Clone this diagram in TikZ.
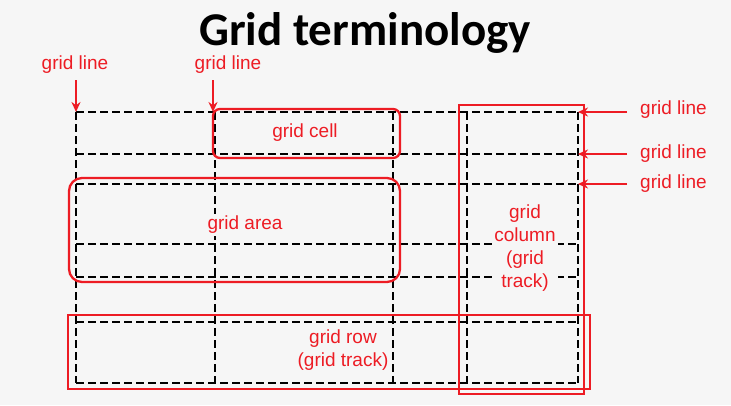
\documentclass[tikz,border=0pt]{standalone}
\usepackage{fontspec}
\setmainfont{Liberation Sans}
\newfontfamily\titlefont{Carlito}
\usetikzlibrary{arrows.meta}
\definecolor{bg}{HTML}{F6F6F6}
\definecolor{myred}{RGB}{237,28,36}
\tikzset{
  gridln/.style={black, line width=2.5pt, dash pattern=on 7.5pt off 4.5pt},
  redbox/.style={myred, line width=2.3pt},
  lbl/.style={text=myred, font=\fontsize{19}{23}\selectfont, inner sep=2pt},
  flbl/.style={lbl, fill=bg},
  arr/.style={myred, line width=2.3pt, -{Stealth[length=10pt,width=9pt]}},
}
\begin{document}
\begin{tikzpicture}[x=1pt,y=-1pt]
\fill[bg] (0,0) rectangle (731,405);
\useasboundingbox (0,0) rectangle (731,405);
\node[font=\titlefont\bfseries\fontsize{47}{50}\selectfont, anchor=base] (title) at (365,45) {Grid terminology};
% grid
\foreach \y in {112,154,184,244,277,322,383} \draw[gridln] (76,\y) -- (578,\y);
\foreach \x in {76,215,393,467,578} \draw[gridln] (\x,112) -- (\x,383);
\coordinate (v1) at (76,112);
\coordinate (v2) at (213,112);
\coordinate (h1) at (578,112);
\coordinate (h2) at (578,154);
\coordinate (h3) at (578,184);
% red boxes
\draw[redbox, rounded corners=7pt] (213,109) rectangle (400,158);
\draw[redbox, rounded corners=13pt] (69,178) rectangle (400,282);
\draw[redbox] (459,105) rectangle (584,394);
\draw[redbox] (68,315) rectangle (590,389);
% labels
\node[lbl] (cell) at (305,133) {grid cell};
\node[flbl] (area) at (245,225) {grid area};
\node[flbl, align=center] (col) at (525,248) {grid\\column\\(grid\\track)};
\node[lbl, align=center] (row) at (343,350) {grid row\\(grid track)};
\node[lbl] (gl1) at (75,65) {grid line};
\node[lbl] (gl2) at (228,65) {grid line};
\node[lbl, anchor=west] (gl3) at (638,110) {grid line};
\node[lbl, anchor=west] (gl4) at (638,154) {grid line};
\node[lbl, anchor=west] (gl5) at (638,184) {grid line};
% arrows
\draw[arr] (v1 |- 0,80) -- (v1);
\draw[arr] (v2 |- 0,80) -- (v2);
\draw[arr] (gl3.west |- h1) ++(-11,0) -- (h1);
\draw[arr] (gl4.west |- h2) ++(-11,0) -- (h2);
\draw[arr] (gl5.west |- h3) ++(-11,0) -- (h3);
\end{tikzpicture}
\end{document}
